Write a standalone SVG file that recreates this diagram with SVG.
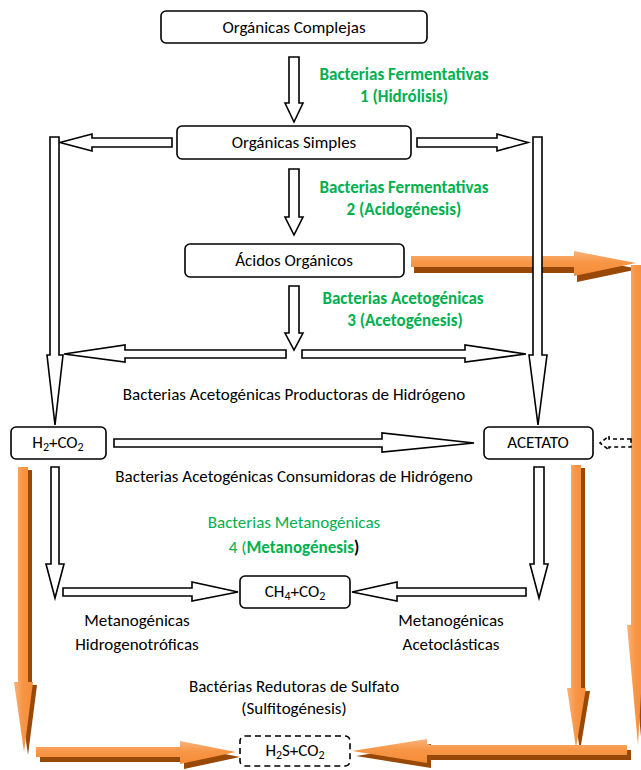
<svg xmlns="http://www.w3.org/2000/svg" width="641" height="770" viewBox="0 0 641 770">
<defs>
<style>
.box{fill:#fff;stroke:#000;stroke-width:1.6}
.dash{fill:#fff;stroke:#000;stroke-width:1.6;stroke-dasharray:6 4}
.t{font-family:Carlito,Lato,"Open Sans",sans-serif;font-size:17px;fill:#000;text-anchor:middle}
.g{font-family:Carlito,Lato,"Open Sans",sans-serif;font-size:17px;font-weight:bold;fill:#00B050;text-anchor:middle}
.gn{font-family:Carlito,Lato,"Open Sans",sans-serif;font-size:17px;fill:#00B050;text-anchor:middle}
.ha{fill:#fff;stroke:#000;stroke-width:1.6;stroke-linejoin:miter}
.hd{fill:none;stroke:#000;stroke-width:1.6;stroke-dasharray:4 3}
.sh{fill:#984807}
.oh{fill:url(#gh)}
.ov{fill:url(#gv)}
</style>
<linearGradient id="gh" x1="0" y1="0" x2="0" y2="1">
<stop offset="0" stop-color="#FBB27A"/><stop offset="0.45" stop-color="#F79646"/><stop offset="1" stop-color="#F58C38"/>
</linearGradient>
<linearGradient id="gv" x1="0" y1="0" x2="1" y2="0">
<stop offset="0" stop-color="#FBB27A"/><stop offset="0.45" stop-color="#F79646"/><stop offset="1" stop-color="#F58C38"/>
</linearGradient>
</defs>
<rect width="641" height="770" fill="#fff"/>

<g id="connectors">
<g id="o-top">
<polygon class="sh" transform="translate(3,6)" points="411,256 574,256 574,251 636,263 574,276 574,267 411,267"/>
<polygon class="oh" points="411,256 574,256 574,251 636,263 574,276 574,267 411,267"/>
</g>
<g id="o-right">
<polygon class="sh" transform="translate(4,3)" points="631,265 641,265 641,625 645,625 638,745 627,625 631,625"/>
<polygon class="ov" points="631,265 641,265 641,625 645,625 638,745 627,625 631,625"/>
</g>
<g id="o-left">
<polygon class="sh" transform="translate(4,3)" points="18,467 28,467 28,682 33,682 24,752 14,682 18,682"/>
<polygon class="ov" points="18,467 28,467 28,682 33,682 24,752 14,682 18,682"/>
</g>
<g id="o-acet">
<polygon class="sh" transform="translate(4,3)" points="571,465 581,465 581,688 586,688 576,748 567,688 571,688"/>
<polygon class="ov" points="571,465 581,465 581,688 586,688 576,748 567,688 571,688"/>
</g>
<g id="o-botleft">
<polygon class="sh" transform="translate(4,5)" points="36,747 180,747 180,741 236,752 180,764 180,757 36,757"/>
<polygon class="oh" points="36,747 180,747 180,741 236,752 180,764 180,757 36,757"/>
</g>
<g id="o-botright">
<polygon class="sh" transform="translate(4,5)" points="627,745 427,745 427,739 352,751 427,763 427,755 627,755"/>
<polygon class="oh" points="627,745 427,745 427,739 352,751 427,763 427,755 627,755"/>
</g>

<polygon class="ha" points="289,57 299,57 299,103 303,103 294,122 285,103 289,103"/>
<polygon class="ha" points="289,169 299,169 299,217 303,217 294,235 285,217 289,217"/>
<polygon class="ha" points="289,286 299,286 299,333 303,333 294,350 285,333 289,333"/>
<polygon class="ha" points="172,138 92,138 92,134 60,142.5 92,151 92,147 172,147"/>
<polygon class="ha" points="417,138 497,138 497,134 528,142.5 497,151 497,147 417,147"/>
<polygon class="ha" points="50,137 59,137 59,355 63,355 55,425 47,355 50,355"/>
<polygon class="ha" points="533,137 542,137 542,355 547,355 538,425 529,355 533,355"/>
<polygon class="ha" points="286,350 125,350 125,345 64,354 125,362 125,358 286,358"/>
<polygon class="ha" points="302,350 465,350 465,345 526,354 465,362 465,358 302,358"/>
<polygon class="ha" points="114,439 382,439 382,433 474,443 382,452 382,447 114,447"/>
<polygon class="hd" points="631,439 609,439 609,436 600,443 609,450 609,447 631,447"/>
<polygon class="ha" points="51,467 59,467 59,564 64,564 55,598 46,564 51,564"/>
<polygon class="ha" points="534,467 544,467 544,564 548,564 539,598 530,564 534,564"/>
<polygon class="ha" points="63,588 192,588 192,582 238,592 192,601 192,596 63,596"/>
<polygon class="ha" points="526,588 397,588 397,582 352,592 397,601 397,596 526,596"/>
</g>

<g id="n-complejas"><rect class="box" x="161" y="11" width="266" height="32" rx="5"/><text class="t" x="294" y="33">Orgánicas Complejas</text></g>
<g id="n-simples"><rect class="box" x="177" y="126" width="234" height="33" rx="5"/><text class="t" x="294" y="148">Orgánicas Simples</text></g>
<g id="n-acidos"><rect class="box" x="185" y="244" width="219" height="33" rx="5"/><text class="t" x="294" y="266">Ácidos Orgánicos</text></g>
<g id="n-h2"><rect class="box" x="11" y="427" width="95" height="32" rx="5"/><text class="t" x="58" y="448">H<tspan font-size="12" dy="3">2</tspan><tspan dy="-3">+CO</tspan><tspan font-size="12" dy="3">2</tspan></text></g>
<g id="n-acetato"><rect class="box" x="484" y="427" width="109" height="32" rx="5"/><text class="t" x="538" y="448">ACETATO</text></g>
<g id="n-ch4"><rect class="box" x="240" y="576" width="110" height="32" rx="5"/><text class="t" x="295" y="597">CH<tspan font-size="12" dy="3">4</tspan><tspan dy="-3">+CO</tspan><tspan font-size="12" dy="3">2</tspan></text></g>
<g id="n-h2s"><rect class="dash" x="240" y="736" width="110" height="30" rx="5"/><text class="t" x="295" y="756">H<tspan font-size="12" dy="3">2</tspan><tspan dy="-3">S+CO</tspan><tspan font-size="12" dy="3">2</tspan></text></g>

<g id="labels">
<text class="g" x="404" y="80">Bacterias Fermentativas</text>
<text class="g" x="404" y="102">1 (Hidrólisis)</text>
<text class="g" x="404" y="193">Bacterias Fermentativas</text>
<text class="g" x="404" y="215">2 (Acidogénesis)</text>
<text class="g" x="403" y="304">Bacterias Acetogénicas</text>
<text class="g" x="405" y="326">3 (Acetogénesis)</text>
<text class="t" x="294" y="400">Bacterias Acetogénicas Productoras de Hidrógeno</text>
<text class="t" x="294" y="482">Bacterias Acetogénicas Consumidoras de Hidrógeno</text>
<text class="gn" x="294" y="528">Bacterias Metanogénicas</text>
<text class="gn" x="294" y="553">4 (<tspan font-weight="bold">Metanogénesis</tspan><tspan font-weight="bold" fill="#000">)</tspan></text>
<text class="t" x="137" y="626">Metanogénicas</text>
<text class="t" x="137" y="650">Hidrogenotróficas</text>
<text class="t" x="451" y="626">Metanogénicas</text>
<text class="t" x="451" y="650">Acetoclásticas</text>
<text class="t" x="294" y="692">Bactérias Redutoras de Sulfato</text>
<text class="t" x="294" y="714">(Sulfitogénesis)</text>
</g>
</svg>
